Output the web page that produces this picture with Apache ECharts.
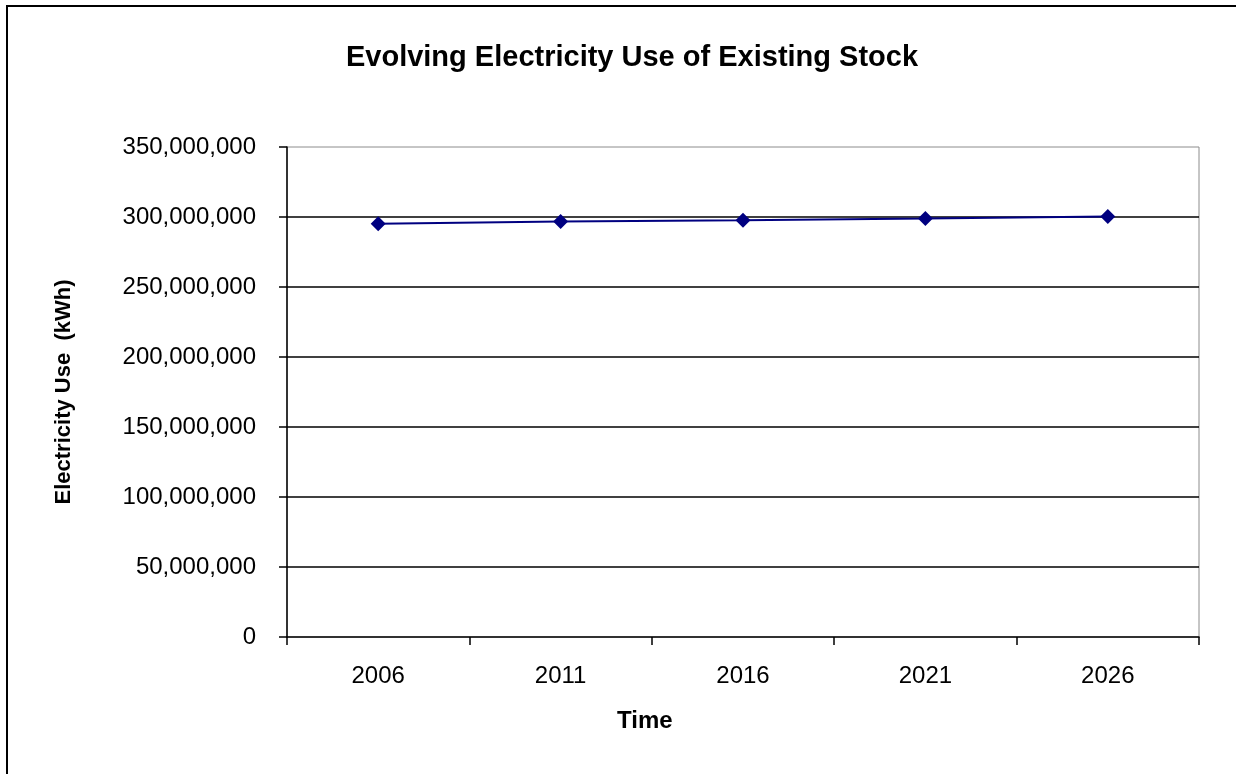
<!DOCTYPE html>
<html>
<head>
<meta charset="utf-8">
<script src="https://cdn.jsdelivr.net/npm/echarts@6/dist/echarts.min.js"></script>
<style>
  html, body { margin: 0; padding: 0; background: #fff; }
  #chart { width: 1236px; height: 774px; }
</style>
</head>
<body>
<div id="chart"></div>
<script>
// Electricity use of the existing building stock, kWh per year
const years = ['2006', '2011', '2016', '2021', '2026'];
const electricityUse = [295200000, 296700000, 297700000, 298900000, 300300000];

const yMin = 0;
const yMax = 350000000;
const yStep = 50000000;

const fmt = v => String(v).replace(/\B(?=(\d{3})+(?!\d))/g, ',');
const FONT = 'Liberation Sans, Arial, sans-serif';

const chart = echarts.init(document.getElementById('chart'), null, { renderer: 'canvas' });

chart.setOption({
  backgroundColor: '#ffffff',
  animation: false,
  title: {
    text: 'Evolving Electricity Use of Existing Stock',
    left: 627,
    textAlign: 'center',
    top: 38,
    textStyle: {
      fontFamily: FONT,
      fontSize: 29,
      fontWeight: 'bold',
      color: '#000'
    }
  },
  grid: {
    left: 287,
    top: 147,
    width: 912,
    height: 490,
    show: true,
    borderColor: '#8c8c8c',
    borderWidth: 1,
    backgroundColor: '#ffffff'
  },
  xAxis: {
    type: 'category',
    data: years,
    boundaryGap: true,
    axisLine: { show: true, lineStyle: { color: '#000', width: 1.5 } },
    axisTick: { show: true, inside: false, length: 8, alignWithLabel: false, lineStyle: { color: '#000', width: 1.5 } },
    axisLabel: {
      margin: 27,
      fontFamily: FONT,
      fontSize: 24,
      color: '#000'
    },
    splitLine: { show: false }
  },
  yAxis: {
    type: 'value',
    min: yMin,
    max: yMax,
    interval: yStep,
    name: 'Electricity Use  (kWh)',
    nameLocation: 'middle',
    nameGap: 212,
    nameRotate: 90,
    nameTextStyle: {
      fontFamily: FONT,
      fontSize: 22,
      fontWeight: 'bold',
      color: '#000'
    },
    axisLine: { show: true, lineStyle: { color: '#000', width: 1.5 } },
    axisTick: { show: true, inside: false, length: 8, lineStyle: { color: '#000', width: 1.5 } },
    axisLabel: {
      margin: 31,
      fontFamily: FONT,
      fontSize: 24,
      color: '#000',
      formatter: v => fmt(v)
    },
    splitLine: {
      show: true,
      showMinLine: false,
      showMaxLine: false,
      lineStyle: { color: '#000', width: 1.5 }
    }
  },
  series: [{
    type: 'line',
    data: electricityUse,
    symbol: 'diamond',
    symbolSize: 15,
    lineStyle: { color: '#000080', width: 2 },
    itemStyle: { color: '#000080' },
    z: 5
  }],
  graphic: [
    // outer frame (left and top edges)
    { type: 'line', shape: { x1: 7, y1: 6, x2: 7, y2: 774 }, style: { stroke: '#000', lineWidth: 2 } },
    { type: 'line', shape: { x1: 6, y1: 6, x2: 1236, y2: 6 }, style: { stroke: '#000', lineWidth: 2 } },
    // x-axis title
    {
      type: 'text',
      left: 647 - 30,
      top: 709,
      style: { text: 'Time', font: 'bold 24px ' + FONT, fill: '#000' }
    }
  ]
});
</script>
</body>
</html>
